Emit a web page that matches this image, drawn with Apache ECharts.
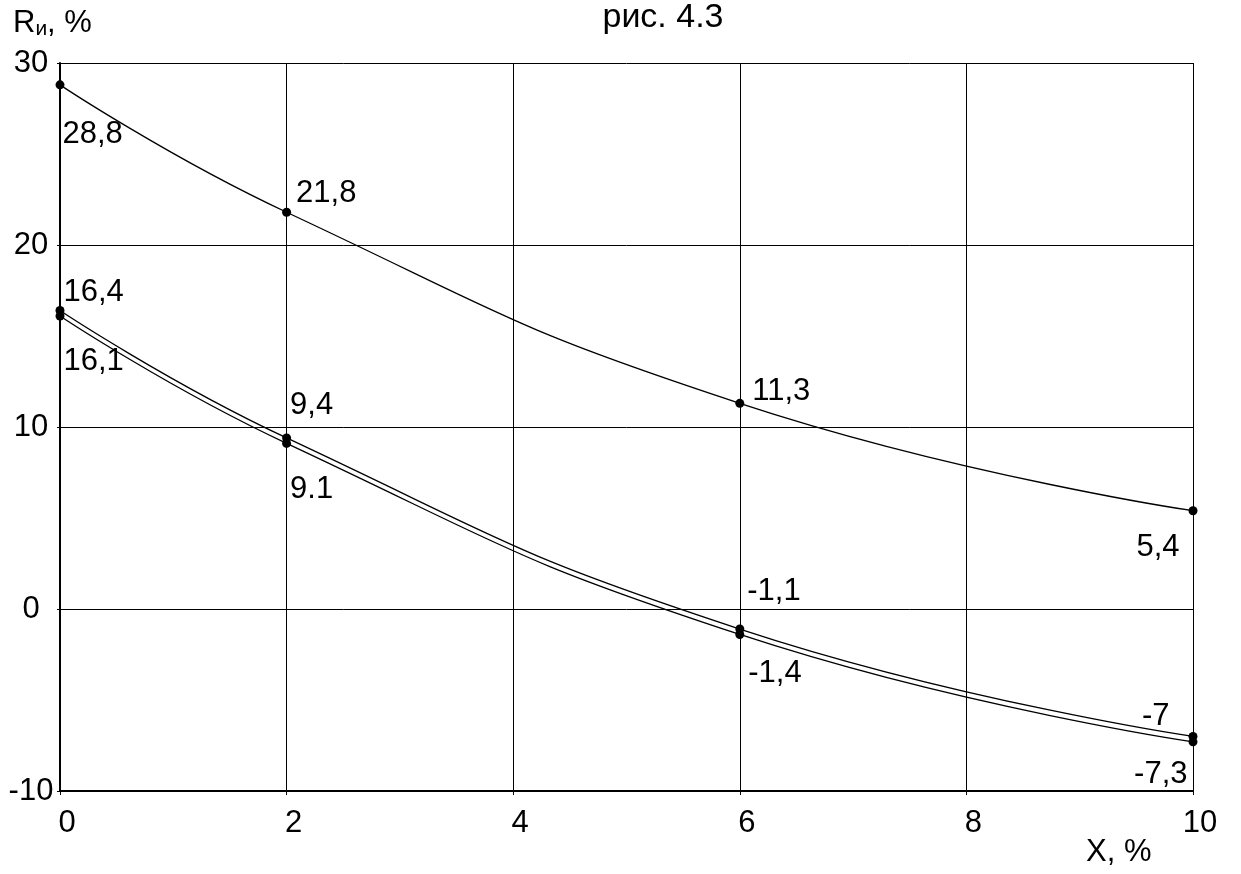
<!DOCTYPE html>
<html><head><meta charset="utf-8">
<script src="https://cdn.jsdelivr.net/npm/echarts@6/dist/echarts.min.js"></script>
<style>html,body{margin:0;padding:0;background:#fff}#c{width:1241px;height:874px}</style>
</head><body><div id="c"></div>
<script>
const xValues = [0, 2, 6, 10];
const seriesTop = [28.8, 21.8, 11.3, 5.4];
const seriesMid = [16.4, 9.4, -1.1, -7];
const seriesLow = [16.1, 9.1, -1.4, -7.3];
const labelsTop = ['28,8', '21,8', '11,3', '5,4'];
const labelsMid = ['16,4', '9,4', '-1,1', '-7'];
const labelsLow = ['16,1', '9.1', '-1,4', '-7,3'];
const xTicks = [0, 2, 4, 6, 8, 10];
const yTicks = [-10, 0, 10, 20, 30];

// label placement (layout only)
const placeTop = [['right',[-2,50]],['right',[5,-19]],['right',[8,-12]],['left',[-9,37]]];
const placeMid = [['right',[-1,-18]],['right',[-1,-32]],['right',[3,-38]],['left',[-19,-20]]];
const placeLow = [['right',[-1,45]],['right',[-1,46]],['right',[4,39]],['left',[-1,33]]];

const FONT = 'Liberation Sans, Arial, sans-serif';
const FS = 31;

function build(vals, labels, place) {
  return vals.map((v, i) => ({
    value: [xValues[i], v],
    label: {
      show: true, formatter: labels[i], position: place[i][0], distance: 0,
      offset: place[i][1], color: '#000', fontSize: FS, fontFamily: FONT
    }
  }));
}
function mkSeries(vals, labels, place) {
  return {
    type: 'line', smooth: true, data: build(vals, labels, place),
    symbol: 'circle', symbolSize: 9, itemStyle: {color: '#000'},
    lineStyle: {color: '#000', width: 1.3}, z: 5, animation: false
  };
}

const chart = echarts.init(document.getElementById('c'), null, {renderer: 'canvas'});
chart.setOption({
  animation: false,
  backgroundColor: '#fff',
  title: [
    {text: 'рис. 4.3', left: 658, textAlign: 'center', top: -4,
     textStyle: {fontFamily: FONT, fontSize: 34, fontWeight: 'normal', color: '#000'}},
    {text: 'R{s|и}, %', left: 8, top: 2,
     textStyle: {fontFamily: FONT, fontSize: 31, fontWeight: 'normal', color: '#000',
       rich: {s: {fontFamily: FONT, fontSize: 21, color: '#000', verticalAlign: 'bottom', padding: [12,0,0,0]}}}},
    {text: 'X, %', left: 1081, top: 832,
     textStyle: {fontFamily: FONT, fontSize: 31, fontWeight: 'normal', color: '#000'}}
  ],
  grid: {left: 60, right: 48, top: 63, bottom: 83},
  xAxis: {
    type: 'value', min: 0, max: 10, interval: 2,
    axisLine: {show: true, onZero: false, lineStyle: {color: '#000', width: 2}},
    axisTick: {show: true, length: 4, lineStyle: {color: '#000'}},
    splitLine: {show: true, lineStyle: {color: '#000', width: 1}},
    axisLabel: {color: '#000', fontSize: FS, fontFamily: FONT, margin: 17, padding: [0,0,0,14],
      formatter: v => xTicks.includes(v) ? String(v) : ''}
  },
  yAxis: {
    type: 'value', min: -10, max: 30, interval: 10,
    axisLine: {show: true, lineStyle: {color: '#000', width: 2}},
    axisTick: {show: true, length: 3, lineStyle: {color: '#000'}},
    splitLine: {show: true, lineStyle: {color: '#000', width: 1}},
    axisLabel: {color: '#000', fontSize: FS, fontFamily: FONT, margin: 29, align: 'center',
      formatter: v => yTicks.includes(v) ? String(v) : ''}
  },
  series: [
    mkSeries(seriesTop, labelsTop, placeTop),
    mkSeries(seriesMid, labelsMid, placeMid),
    mkSeries(seriesLow, labelsLow, placeLow)
  ]
});
</script></body></html>
